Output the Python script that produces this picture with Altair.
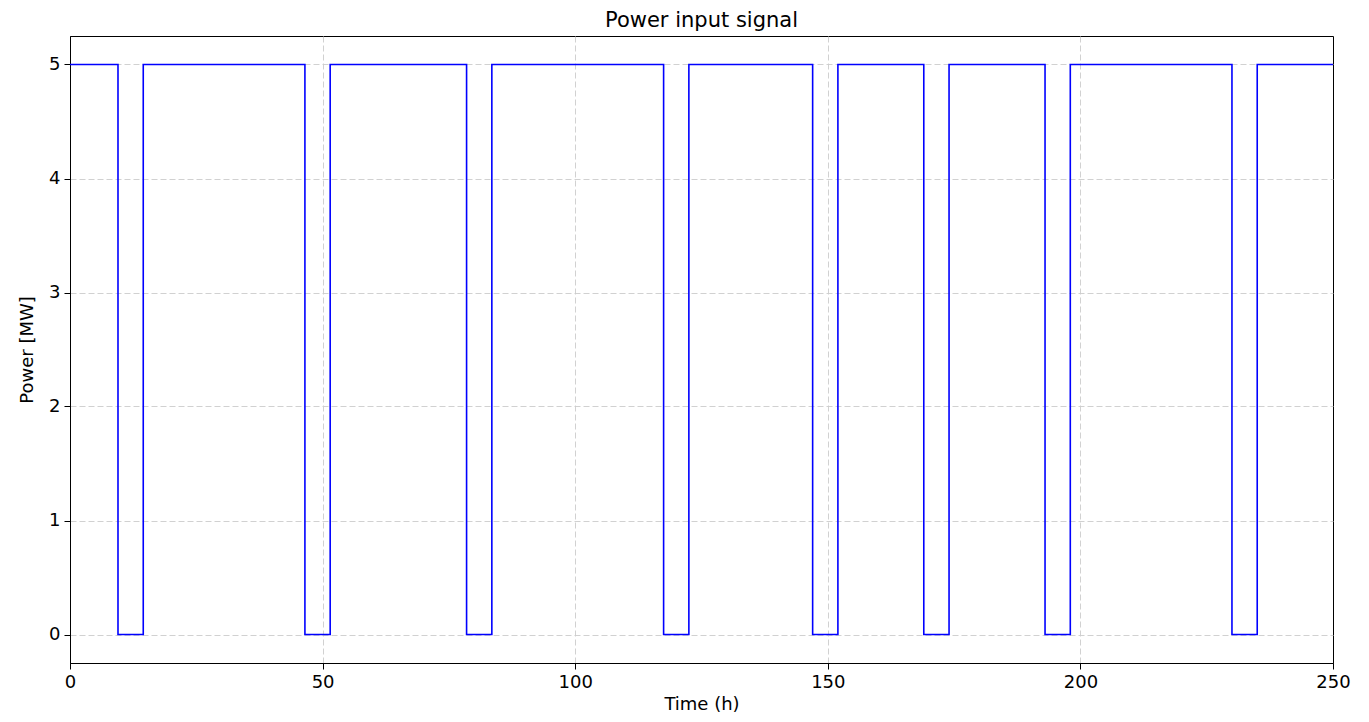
import altair as alt
import pandas as pd

# Transition times (h) and power level (MW) after each transition (step-after)
times = [0, 9.5, 14.5, 46.5, 51.5, 78.5, 83.5, 117.5, 122.5, 147, 152, 169, 174, 193, 198, 230, 235, 250]
power = [5, 0, 5, 0, 5, 0, 5, 0, 5, 0, 5, 0, 5, 0, 5, 0, 5, 5]

x_ticks = [0, 50, 100, 150, 200, 250]
y_ticks = [0, 1, 2, 3, 4, 5]

df = pd.DataFrame({"t": times, "p": power})

FONT = "DejaVu Sans"

chart = alt.Chart(df).mark_line(
    interpolate="step-after", color="#0000ff", strokeWidth=1.6
).encode(
    x=alt.X("t:Q", title="Time (h)",
            scale=alt.Scale(domain=[0, 250], nice=False, zero=False),
            axis=alt.Axis(values=x_ticks, format="d", labelPadding=4,
                          titlePadding=4, labelFlush=False,
                          gridOpacity={"condition": {"test": "datum.value == 0 || datum.value == 250",
                                                     "value": 0},
                                       "value": 1})),
    y=alt.Y("p:Q", title="Power [MW]",
            scale=alt.Scale(domain=[-0.25, 5.25], nice=False, zero=False),
            axis=alt.Axis(values=y_ticks, format="d", labelPadding=4,
                          titlePadding=12)),
).properties(
    width=1263,
    height=627,
    title=alt.TitleParams("Power input signal", fontSize=21, font=FONT,
                          fontWeight="normal", anchor="middle", offset=5,
                          color="black"),
    autosize=alt.AutoSizeParams(type="none"),
    padding={"left": 62, "top": 28, "right": 22, "bottom": 51},
).configure_view(
    stroke="black", strokeWidth=1
).configure_axis(
    grid=True,
    gridColor="#cccccc",
    gridDash=[6, 3],
    gridWidth=0.9,
    domainColor="black",
    domainWidth=1,
    tickColor="black",
    tickSize=6,
    tickWidth=1,
    labelFont=FONT,
    labelFontSize=18,
    labelColor="black",
    titleFont=FONT,
    titleFontSize=18,
    titleFontWeight="normal",
    titleColor="black",
)

chart.save("out.html", embed_options={"renderer": "svg", "actions": False})
